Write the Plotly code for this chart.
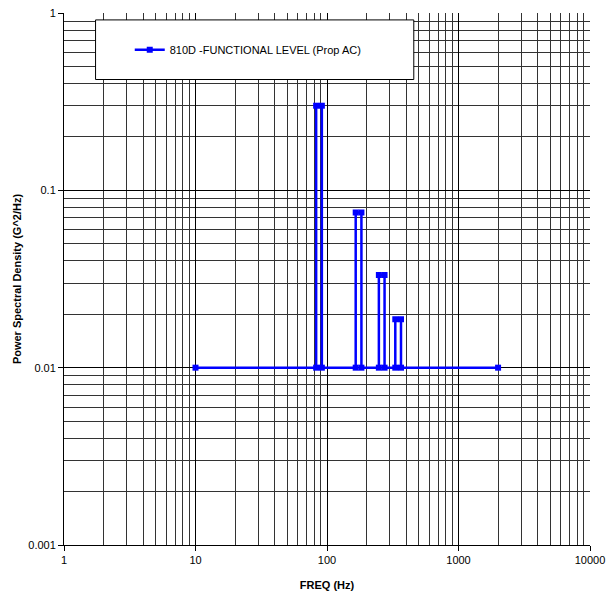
import plotly.graph_objects as go

# Data: MIL-STD-810D propeller aircraft functional level PSD
freq = [10, 82.7, 82.7, 91.4, 91.4, 165.3, 165.3, 182.7, 182.7,
        248, 248, 274, 274, 330.6, 330.6, 365.4, 365.4, 2000]
psd = [0.01, 0.01, 0.3, 0.3, 0.01, 0.01, 0.075, 0.075, 0.01,
       0.01, 0.0333, 0.0333, 0.01, 0.01, 0.01875, 0.01875, 0.01, 0.01]
series_name = "810D -FUNCTIONAL LEVEL (Prop AC)"
x_ticks = [1, 10, 100, 1000, 10000]
x_tick_labels = ["1", "10", "100", "1000", "10000"]
y_ticks = [0.001, 0.01, 0.1, 1]
y_tick_labels = ["0.001", "0.01", "0.1", "1"]

font_family = "Liberation Sans, Arial, sans-serif"

fig = go.Figure()
fig.add_trace(go.Scatter(
    x=freq, y=psd, mode="lines+markers", name=series_name,
    line=dict(color="#0000FF", width=2.5),
    marker=dict(symbol="square", size=6, color="#0000FF"),
))

axis_common = dict(
    showline=True, linecolor="black", linewidth=1,
    showgrid=True, gridcolor="black", gridwidth=1,
    ticks="outside", ticklen=5, tickcolor="black",
    zeroline=False, mirror=False,
    tickfont=dict(family=font_family, size=11, color="black"),
)

fig.update_xaxes(
    type="log", range=[0, 4],
    tickvals=x_ticks, ticktext=x_tick_labels,
    minor=dict(dtick="D1", showgrid=True, gridcolor="#333333", gridwidth=1, ticks=""),
    title=dict(text="<b>FREQ (Hz)</b>", font=dict(family=font_family, size=11, color="black"), standoff=16),
    **axis_common,
)
fig.update_yaxes(
    type="log", range=[-3, 0],
    tickvals=y_ticks, ticktext=y_tick_labels,
    minor=dict(dtick="D1", showgrid=True, gridcolor="#333333", gridwidth=1, ticks=""),
    title=dict(text="<b>Power Spectral Density (G^2/Hz)</b>", font=dict(family=font_family, size=11, color="black"), standoff=4),
    **axis_common,
)

# legend frame
fig.add_shape(type="rect", xref="paper", yref="paper",
              x0=0.060, x1=0.665, y0=0.875, y1=0.987,
              line=dict(color="black", width=1), fillcolor="white", layer="above")

fig.update_layout(
    width=612, height=597,
    margin=dict(l=64, r=18, t=7, b=48),
    paper_bgcolor="white", plot_bgcolor="white",
    showlegend=True,
    legend=dict(x=0.125, y=0.931, xanchor="left", yanchor="middle",
                bgcolor="rgba(0,0,0,0)", borderwidth=0,
                font=dict(family=font_family, size=11, color="black")),
    font=dict(family=font_family, color="black"),
)

fig.write_html("out.html")
